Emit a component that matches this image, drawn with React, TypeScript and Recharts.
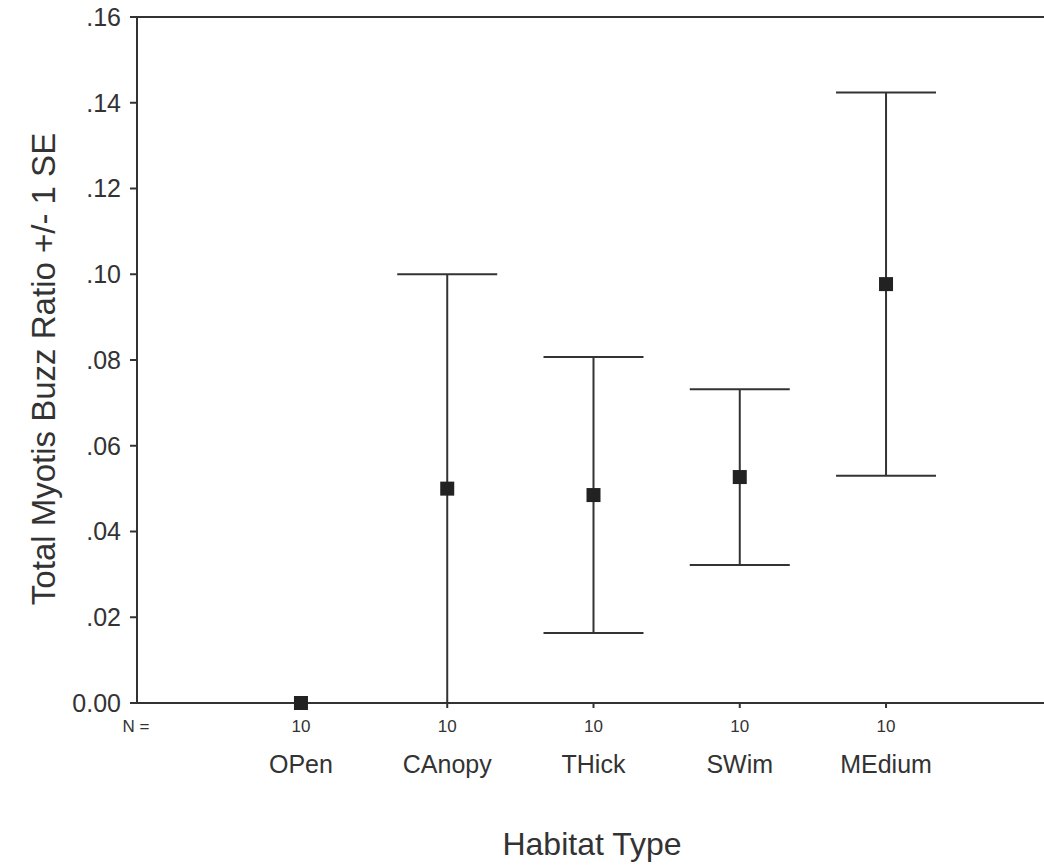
import {
  ComposedChart,
  ErrorBar,
  ReferenceLine,
  Scatter,
  XAxis,
  YAxis,
} from 'recharts';

const habitats = ['OPen', 'CAnopy', 'THick', 'SWim', 'MEdium'];
const sampleSizes = [10, 10, 10, 10, 10];
const meanRatios = [0, 0.05, 0.0485, 0.0527, 0.0977];
const standardErrors = [0, 0.05, 0.0322, 0.0205, 0.0447];
const yTicks = [0, 0.02, 0.04, 0.06, 0.08, 0.1, 0.12, 0.14, 0.16];

const INK = '#333';
const FONT = '"Liberation Sans", Arial, Helvetica, sans-serif';

const points = habitats.map((name, i) => ({
  pos: i + 1,
  name,
  n: sampleSizes[i],
  mean: meanRatios[i],
  se: standardErrors[i],
}));

const formatRatio = (v: number) => (v === 0 ? '0.00' : v.toFixed(2).replace(/^0/, ''));

// each category tick shows its N above the habitat name
const HabitatTick = (props: any) => {
  const { x, y, payload } = props;
  const idx = Math.round(payload.value) - 1;
  return (
    <g>
      <text x={x} y={y + 22} textAnchor='middle' fontSize={17} fill={INK} fontFamily={FONT}>
        {sampleSizes[idx]}
      </text>
      <text x={x} y={y + 63} textAnchor='middle' fontSize={25} fill={INK} fontFamily={FONT}>
        {habitats[idx]}
      </text>
    </g>
  );
};

const MeanMarker = (props: any) => {
  const { cx, cy } = props;
  return <rect x={cx - 7} y={cy - 7} width={14} height={14} fill='#222' />;
};

export default function App() {
  return (
    <div style={{ position: 'absolute', left: 0, top: 0, background: '#fff' }}>
      <ComposedChart
        width={1044}
        height={866}
        data={points}
        margin={{ top: 17, right: 0, left: 57, bottom: 103 }}>
        <XAxis
          type='number'
          dataKey='pos'
          domain={[-0.121, 6.08]}
          ticks={[1, 2, 3, 4, 5]}
          tick={<HabitatTick />}
          tickSize={5}
          height={60}
          stroke={INK}
          strokeWidth={2}
          allowDataOverflow
          label={{
            content: () => (
              <g fontFamily={FONT} fill={INK}>
                <text x={136} y={732} textAnchor='middle' fontSize={17}>
                  N =
                </text>
                <text x={592} y={855} textAnchor='middle' fontSize={32}>
                  Habitat Type
                </text>
              </g>
            ),
          }}
        />
        <YAxis
          type='number'
          domain={[0, 0.16]}
          ticks={yTicks}
          tickFormatter={formatRatio}
          width={80}
          tickSize={7}
          tickMargin={9}
          stroke={INK}
          strokeWidth={2}
          tick={{ fill: INK, fontSize: 25, fontFamily: FONT }}
          label={{
            content: () => (
              <text
                x={43}
                y={369}
                transform='rotate(-90 43 369)'
                textAnchor='middle'
                dominantBaseline='central'
                fontSize={33}
                fill={INK}
                fontFamily={FONT}>
                Total Myotis Buzz Ratio +/- 1 SE
              </text>
            ),
          }}
        />
        <ReferenceLine y={0.16} stroke={INK} strokeWidth={2} />
        <Scatter
          dataKey='mean'
          shape={<MeanMarker />}
          isAnimationActive={false}>
          <ErrorBar
            dataKey='se'
            direction='y'
            width={50}
            stroke={INK}
            strokeWidth={2}
            isAnimationActive={false}
          />
        </Scatter>
      </ComposedChart>
    </div>
  );
}
